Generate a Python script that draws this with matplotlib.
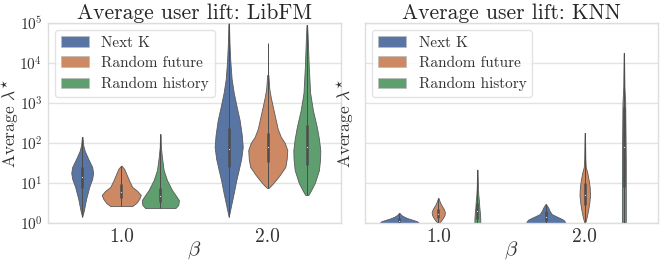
import numpy as np
import matplotlib
matplotlib.use("Agg")
import matplotlib.pyplot as plt
from matplotlib.patches import Patch

plt.rcParams["font.family"] = "cmr10"
plt.rcParams["mathtext.fontset"] = "cm"
plt.rcParams["axes.formatter.use_mathtext"] = True
plt.rcParams["axes.unicode_minus"] = False

models = ["LibFM", "KNN"]
betas = ["1.0", "2.0"]
methods = ["Next K", "Random future", "Random history"]
colors = ["#5875a4", "#cc8963", "#5f9e6e"]
y_ticks = [1, 10, 100, 1000, 10000, 100000]

# violin outlines: log10(lift) levels and half widths
# (half width 1.0 = the full dodge slot); box = (low, q1, median, q3, high) in log10
libfm_nextk_b1 = ([0.15, 0.3, 0.6, 0.9, 1.1, 1.25, 1.4, 1.6, 1.8, 1.95, 2.15],
                  [0.0, 0.08, 0.2, 0.36, 0.51, 0.56, 0.51, 0.31, 0.13, 0.05, 0.015])
libfm_future_b1 = ([0.42, 0.5, 0.6, 0.7, 0.8, 0.9, 1.05, 1.2, 1.35, 1.43],
                   [0.56, 0.77, 0.92, 1.0, 0.82, 0.56, 0.41, 0.28, 0.15, 0.015])
libfm_history_b1 = ([0.37, 0.45, 0.57, 0.7, 0.82, 1.07, 1.32, 1.65, 1.9, 2.22],
                    [0.77, 0.92, 0.95, 0.77, 0.6, 0.34, 0.17, 0.08, 0.03, 0.015])
libfm_nextk_b2 = ([0.15, 0.45, 0.75, 1.05, 1.32, 1.6, 1.9, 2.2, 2.57, 2.9, 3.25, 3.6, 4.07, 4.5, 5.0],
                  [0.0, 0.13, 0.26, 0.38, 0.51, 0.64, 0.72, 0.67, 0.56, 0.41, 0.26, 0.15, 0.08, 0.04, 0.015])
libfm_future_b2 = ([0.87, 0.95, 1.07, 1.2, 1.4, 1.6, 1.82, 2.0, 2.15, 2.35, 2.57, 2.9, 3.15, 3.35, 3.7],
                   [0.03, 0.2, 0.41, 0.62, 0.9, 0.97, 1.0, 0.87, 0.67, 0.51, 0.41, 0.26, 0.15, 0.08, 0.03])
libfm_history_b2 = ([0.7, 0.8, 1.0, 1.32, 1.6, 1.82, 2.1, 2.4, 2.82, 3.25, 3.9, 4.3, 4.7, 4.95],
                    [0.08, 0.2, 0.41, 0.62, 0.68, 0.69, 0.62, 0.51, 0.31, 0.17, 0.1, 0.07, 0.04, 0.015])
knn_nextk_b1 = ([0.0, 0.04, 0.08, 0.12, 0.16, 0.2, 0.25],
                [1.0, 0.92, 0.67, 0.41, 0.23, 0.1, 0.015])
knn_future_b1 = ([0.0, 0.05, 0.12, 0.2, 0.27, 0.35, 0.45, 0.55, 0.62],
                 [0.03, 0.13, 0.23, 0.32, 0.34, 0.28, 0.15, 0.06, 0.015])
knn_history_b1 = ([0.0, 0.1, 0.25, 0.4, 0.55, 0.7, 0.9, 1.33],
                  [0.15, 0.15, 0.13, 0.1, 0.08, 0.05, 0.03, 0.01])
knn_nextk_b2 = ([0.0, 0.04, 0.08, 0.12, 0.16, 0.22, 0.3, 0.38, 0.47],
                [1.0, 0.97, 0.9, 0.74, 0.56, 0.31, 0.2, 0.13, 0.015])
knn_future_b2 = ([0.02, 0.15, 0.32, 0.5, 0.7, 0.9, 1.07, 1.25, 1.4, 1.6, 2.25],
                 [0.03, 0.1, 0.17, 0.23, 0.27, 0.25, 0.2, 0.13, 0.05, 0.03, 0.01])
knn_history_b2 = ([0.0, 0.5, 1.0, 1.5, 2.0, 2.5, 3.0, 3.4, 4.25],
                  [0.1, 0.1, 0.1, 0.1, 0.09, 0.08, 0.07, 0.03, 0.01])

libfm_box = [[(0.15, 0.87, 1.15, 1.4, 2.15), (0.42, 0.62, 0.78, 0.97, 1.43), (0.37, 0.52, 0.68, 0.87, 2.22)],
             [(0.15, 1.4, 1.85, 2.37, 5.0), (0.87, 1.52, 1.9, 2.25, 4.5), (0.7, 1.45, 1.9, 2.45, 4.95)]]
knn_box = [[(0.0, 0.02, 0.06, 0.12, 0.25), (0.0, 0.12, 0.22, 0.35, 0.62), (0.0, 0.1, 0.3, 0.5, 1.33)],
           [(0.0, 0.05, 0.15, 0.3, 0.47), (0.02, 0.45, 0.7, 1.0, 2.25), (0.0, 0.9, 1.9, 2.9, 4.25)]]

violins = {
    "LibFM": [[libfm_nextk_b1, libfm_future_b1, libfm_history_b1],
              [libfm_nextk_b2, libfm_future_b2, libfm_history_b2]],
    "KNN": [[knn_nextk_b1, knn_future_b1, knn_history_b1],
            [knn_nextk_b2, knn_future_b2, knn_history_b2]],
}
boxes = {"LibFM": libfm_box, "KNN": knn_box}

slot = 0.8 / 3
gray = "#4d4d4d"
text_col = "#333333"

fig, axes = plt.subplots(1, 2, figsize=(6.64, 2.66), dpi=100, sharey=True)
fig.subplots_adjust(left=0.0723, right=0.991, bottom=0.162, top=0.914, wspace=0.082)

for k, (ax, model) in enumerate(zip(axes, models)):
    ax.set_facecolor("white")
    ax.set_axisbelow(True)
    ax.grid(True, axis="y", color="#e3e3e3", linewidth=1.0)
    for s in ax.spines.values():
        s.set_color("#dddddd")
        s.set_linewidth(1.0)
    for i in range(len(betas)):
        for j in range(len(methods)):
            lev, wid = violins[model][i][j]
            lev = np.array(lev)
            wid = np.array(wid) * slot / 2
            x0 = i + (j - 1) * slot
            y = 10.0 ** lev
            ax.fill_betweenx(y, x0 - wid, x0 + wid, facecolor=colors[j],
                             edgecolor="#5a5a5a", linewidth=0.6, zorder=2)
            lo, q1, med, q3, hi = boxes[model][i][j]
            ax.plot([x0, x0], [10 ** lo, 10 ** hi], color=gray, lw=0.7,
                    solid_capstyle="butt", zorder=3)
            ax.plot([x0, x0], [10 ** q1, 10 ** q3], color=gray, lw=1.8,
                    solid_capstyle="butt", zorder=3)
            ax.scatter([x0], [10 ** med], s=0.8, color="#dddddd", zorder=4, linewidths=0)
    ax.set_yscale("log")
    ax.set_ylim(1, 1e5)
    ax.set_xlim(-0.5, 1.5)
    ax.yaxis.set_major_locator(matplotlib.ticker.FixedLocator(y_ticks))
    ax.yaxis.set_major_formatter(matplotlib.ticker.LogFormatterMathtext())
    ax.yaxis.set_minor_locator(matplotlib.ticker.NullLocator())
    ax.set_xticks(range(len(betas)))
    ax.set_xticklabels(betas)
    ax.tick_params(axis="x", length=0, labelsize=14, colors=text_col, pad=4)
    ax.tick_params(axis="y", length=0, labelsize=11, colors=text_col, pad=4)
    ax.set_title("Average user lift: " + model, fontsize=15.5, color="#262626", pad=3)
    ax.set_xlabel(r"$\beta$", fontsize=15, color=text_col)
    ax.xaxis.set_label_coords(0.5, -0.085)
    ax.set_ylabel(r"Average $\lambda^{\star}$", fontsize=12.5, color=text_col)
    ax.yaxis.set_label_coords(-0.091 if k == 0 else -0.03, 0.5)
    handles = [Patch(facecolor=c, edgecolor="#bbbbbb", linewidth=0.5) for c in colors]
    leg = ax.legend(handles, methods, loc="upper left", fontsize=11, frameon=True,
                    fancybox=True, framealpha=0.8, edgecolor="#dddddd",
                    handlelength=1.85, borderaxespad=0.45, labelspacing=0.45)
    for t in leg.get_texts():
        t.set_color(text_col)

axes[1].tick_params(axis="y", labelleft=False)

fig.savefig("out.png", dpi=100, facecolor="white")
